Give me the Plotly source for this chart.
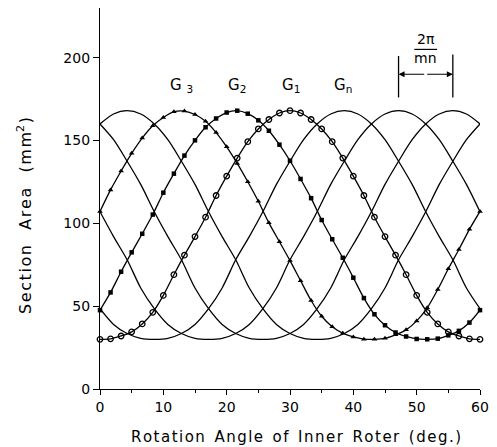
import plotly.graph_objects as go

# ---- data ----
# grid for the plain (unmarked) curves, degrees
x_line = [0, 2.143, 4.286, 6.429, 8.571, 10.714, 12.857, 15, 17.143, 19.286, 21.429,
          23.571, 25.714, 27.857, 30, 32.143, 34.286, 36.429, 38.571, 40.714, 42.857,
          45, 47.143, 49.286, 51.429, 53.571, 55.714, 57.857, 60]

# plain curve peaking near 4.3 deg
curve_a = [160, 166, 168, 166, 160, 150.5, 137.5, 123.5, 107, 92, 78, 61, 48.5, 39, 33.5,
           30.6, 30, 30.6, 33.5, 39, 48.5, 61, 78, 92, 107, 123.5, 137.5, 150.5, 160]
# Gn, peaking near 38.6 deg
curve_gn = [48.5, 39, 33.5, 30.6, 30, 30.6, 33.5, 39, 48.5, 61, 78, 92, 107, 123.5, 137.5,
            150.5, 160, 166, 168, 166, 160, 150.5, 137.5, 123.5, 107, 92, 78, 61, 48.5]
# plain curve peaking near 47.1 deg
curve_e = [107, 92, 78, 61, 48.5, 39, 33.5, 30.6, 30, 30.6, 33.5, 39, 48.5, 61, 78, 92,
           107, 123.5, 137.5, 150.5, 160, 166, 168, 166, 160, 150.5, 137.5, 123.5, 107]
# plain curve peaking near 55.7 deg
curve_f = [160, 150.5, 137.5, 123.5, 107, 92, 78, 61, 48.5, 39, 33.5, 30.6, 30, 30.6, 33.5,
           39, 48.5, 61, 78, 92, 107, 123.5, 137.5, 150.5, 160, 166, 168, 166, 160]

# grid of the marked (measured) curves, degrees
x_mark = [0, 1.667, 3.333, 5, 6.667, 8.333, 10, 11.667, 13.333, 15, 16.667, 18.333, 20,
          21.667, 23.333, 25, 26.667, 28.333, 30, 31.667, 33.333, 35, 36.667, 38.333, 40,
          41.667, 43.333, 45, 46.667, 48.333, 50, 51.667, 53.333, 55, 56.667, 58.333, 60]

g1 = [30, 30.3, 32, 34.5, 39.3, 46.3, 56.5, 69, 80.8, 92, 103.7, 116.8, 128.5, 139.4, 149.3,
      157, 162.7, 166.6, 168, 166.6, 162.7, 157, 149.3, 139.4, 128.5, 116.8, 103.7, 92, 80.8,
      69, 56.5, 46.3, 39.3, 34.5, 32, 30.3, 30]
g2 = [47.6, 58.3, 70.8, 82.5, 93.7, 105.3, 118.5, 130, 140.9, 150.1, 158, 163.3, 166.9, 168,
      166.2, 162.2, 155.9, 147.5, 137.8, 126.8, 115.2, 102, 90.4, 79.2, 67.2, 54.9, 45.1,
      38.5, 34.1, 31.7, 30.2, 30, 30.4, 32.4, 35.1, 40.1, 47.6]
g3 = [107.2, 120.2, 131.6, 142.3, 151.5, 158.9, 163.9, 167.4, 167.8, 165.7, 161.6, 154.8,
      146.2, 136.2, 125.1, 113.3, 100.3, 88.9, 77.5, 65.4, 53.4, 43.9, 37.6, 33.7, 31.4,
      30.1, 30, 30.6, 32.7, 35.7, 41.1, 49, 60.1, 72.6, 84.2, 96.4, 107.2]

x_ticks = [0, 10, 20, 30, 40, 50, 60]
y_ticks = [0, 50, 100, 150, 200]

curve_labels = ["G\u00a0<sub>3</sub>", "G<sub>2</sub>", "G<sub>1</sub>", "G<sub>n</sub>"]
curve_label_x = [12.9, 21.6, 30.2, 38.3]
curve_label_y = [183, 183, 183, 183]

period_left, period_right = 47.14, 55.71

# ---- figure ----
FONT = "DejaVu Sans"
HAIR = "\u200a"
NB = "\u00a0"


def spaced(words, gap):
    """letter-spaced words, joined by a wide gap (mimics the reference lettering)"""
    return (NB * gap).join(HAIR.join(w) for w in words)


fig = go.Figure()
line_style = dict(color="black", width=1.3, shape="spline", smoothing=0.8)

for ys in (curve_a, curve_gn, curve_e, curve_f):
    fig.add_trace(go.Scatter(x=x_line, y=ys, mode="lines", line=line_style,
                             showlegend=False, hoverinfo="skip", cliponaxis=False))

marker_specs = [
    (g3, dict(symbol="triangle-up", size=5, color="black")),
    (g2, dict(symbol="square", size=4.5, color="black")),
    (g1, dict(symbol="circle-open", size=5.5, color="black", line=dict(width=1.3))),
]
for ys, mk in marker_specs:
    fig.add_trace(go.Scatter(x=x_mark, y=ys, mode="lines+markers", line=line_style,
                             marker=mk, showlegend=False, cliponaxis=False))

for txt, xx, yy in zip(curve_labels, curve_label_x, curve_label_y):
    fig.add_annotation(x=xx, y=yy, text=txt, showarrow=False,
                       font=dict(family=FONT, size=15, color="black"))

# 2pi/mn period bracket
fig.add_shape(type="line", x0=period_left, x1=period_left, y0=176, y1=201,
              line=dict(color="black", width=1.3))
fig.add_shape(type="line", x0=period_right, x1=period_right, y0=176, y1=202,
              line=dict(color="black", width=1.3))
mid = (period_left + period_right) / 2
for end in (period_left, period_right):
    fig.add_annotation(x=end, y=190, ax=mid, ay=190, axref="x", ayref="y",
                       xref="x", yref="y", text="", showarrow=True,
                       arrowhead=2, arrowsize=1, arrowwidth=1.2, arrowcolor="black")
fig.add_annotation(x=mid, y=211, text="2π", showarrow=False,
                   font=dict(family=FONT, size=14, color="black"))
fig.add_shape(type="line", x0=mid - 1.8, x1=mid + 1.8, y0=205, y1=205,
              line=dict(color="black", width=1.2))
fig.add_annotation(x=mid, y=200, text="mn", showarrow=False,
                   font=dict(family=FONT, size=14, color="black"))

# axis titles
fig.add_annotation(xref="paper", yref="paper", x=0.515, y=-0.126,
                   text=spaced(["Rotation", "Angle", "of", "Inner", "Roter", "(deg.)"], 2),
                   showarrow=False, yanchor="middle",
                   font=dict(family=FONT, size=15, color="black"))
fig.add_annotation(xref="paper", yref="paper", x=-0.2, y=0.454,
                   text=spaced(["Section", "Area", "(mm"], 3) + "<sup>2</sup>" + HAIR + ")",
                   textangle=-90, showarrow=False, xanchor="center", yanchor="middle",
                   font=dict(family=FONT, size=16, color="black"))

fig.update_layout(
    width=497, height=447,
    margin=dict(l=100, r=9, t=8, b=58),
    paper_bgcolor="white", plot_bgcolor="white",
    font=dict(family=FONT, color="black"),
    xaxis=dict(range=[0, 60], tickvals=x_ticks, ticks="outside", ticklen=5,
               tickwidth=1.2, tickcolor="black", showline=True, linecolor="black",
               linewidth=1.3, showgrid=False, zeroline=False,
               minor=dict(dtick=5, ticks="outside", ticklen=3, tickcolor="black"),
               tickfont=dict(family=FONT, size=14, color="black")),
    yaxis=dict(range=[0, 230], tickvals=y_ticks, ticks="outside", ticklen=6,
               tickwidth=1.2, tickcolor="black", showline=True, linecolor="black",
               linewidth=1.3, showgrid=False, zeroline=False,
               tickfont=dict(family=FONT, size=14, color="black")),
)

fig.write_html("out.html")
